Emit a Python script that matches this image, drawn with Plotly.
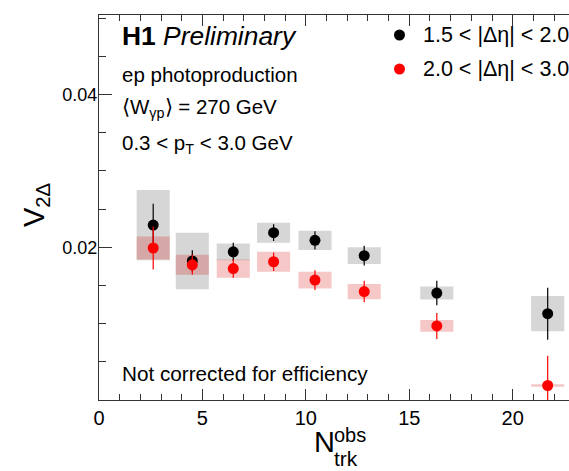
import plotly.graph_objects as go

# Multiplicity bin centres (observed track multiplicity)
n_trk = [2.62, 4.51, 6.49, 8.44, 10.44, 12.82, 16.33, 21.69]

# V2Delta for 1.5 < |d eta| < 2.0
v2_a = [0.0229, 0.0182, 0.0194, 0.0219, 0.0209, 0.0189, 0.0140, 0.0113]
stat_a = [0.0028, 0.0014, 0.0012, 0.0011, 0.0012, 0.0013, 0.0016, 0.0034]
sys_a = [0.0046, 0.0037, 0.0011, 0.0013, 0.00125, 0.0011, 0.00085, 0.0023]

# V2Delta for 2.0 < |d eta| < 3.0
v2_b = [0.0199, 0.0177, 0.0172, 0.0181, 0.0157, 0.0142, 0.0097, 0.0019]
stat_b = [0.0028, 0.0013, 0.0012, 0.0012, 0.0013, 0.0014, 0.0017, 0.0039]
sys_b = [0.0015, 0.0013, 0.0012, 0.0013, 0.0011, 0.0010, 0.00076, 0.00015]

series_labels = ["1.5 < |Δη| < 2.0", "2.0 < |Δη| < 3.0"]
x_ticks = [0, 5, 10, 15, 20]
y_ticks = [0.02, 0.04]

SYS_HALF_WIDTH = 0.8
FONT = "Liberation Sans, Arial, sans-serif"

W, H = 569, 471
ML, MR, MT, MB = 99, 0, 15, 71
X_RANGE = [0, 22.72]
Y_RANGE = [0, 0.0504]


def px(x):
    return (x - ML) / (W - ML - MR)


def py(y):
    return (H - MB - y) / (H - MT - MB)


fig = go.Figure()

# systematic uncertainty boxes
shapes = []
for xs, ys, ss, col in [
    (n_trk, v2_a, sys_a, "rgba(0,0,0,0.16)"),
    (n_trk, v2_b, sys_b, "rgba(210,0,0,0.22)"),
]:
    for x, y, s in zip(xs, ys, ss):
        shapes.append(dict(type="rect", xref="x", yref="y",
                           x0=x - SYS_HALF_WIDTH, x1=x + SYS_HALF_WIDTH,
                           y0=y - s, y1=y + s, fillcolor=col,
                           line=dict(width=0), layer="below"))

for ys, es, col, name in [
    (v2_a, stat_a, "black", series_labels[0]),
    (v2_b, stat_b, "#ff0000", series_labels[1]),
]:
    fig.add_trace(go.Scatter(
        x=n_trk, y=ys, mode="markers", name=name,
        marker=dict(color=col, size=11, line=dict(width=0)),
        error_y=dict(type="data", array=es, visible=True,
                     color=col, thickness=1.2, width=0),
        cliponaxis=True,
    ))

# legend drawn by hand: marker circles + labels
legend_rows = [(35, "black"), (69, "#ff0000")]
for (yy, col), lab in zip(legend_rows, series_labels):
    shapes.append(dict(type="circle", xref="paper", yref="paper",
                       xsizemode="pixel", ysizemode="pixel",
                       xanchor=px(399.5), yanchor=py(yy),
                       x0=-5.5, x1=5.5, y0=-5.5, y1=5.5,
                       fillcolor=col, line=dict(width=0)))

annotations = []


def text(x, y, s, size, **kw):
    d = dict(xref="paper", yref="paper", x=px(x), y=py(y), text=s,
             showarrow=False, xanchor="left", yanchor="middle",
             font=dict(family=FONT, size=size, color="black"))
    d.update(kw)
    annotations.append(d)


for (yy, col), lab in zip(legend_rows, series_labels):
    text(421, yy, lab, 21.5)

text(120, 36, "<b>H1</b> <i>Preliminary</i>", 26.4)
text(120, 74, "ep photoproduction", 20.5)
text(120, 108, "⟨W<sub>γp</sub>⟩ = 270 GeV", 20.5)
text(120, 144, "0.3 < p<sub>T</sub> < 3.0 GeV", 20.5)
text(120, 373, "Not corrected for efficiency", 20.7)

# axis titles
text(36, 205, "V<sub>2Δ</sub>", 29, textangle=-90, xanchor="center")
text(312, 442, "N", 29)
text(332, 435, "obs", 20)
text(332, 458, "trk", 21)

axis_col = "#333333"
fig.update_layout(
    width=W, height=H,
    margin=dict(l=ML, r=MR, t=MT, b=MB, pad=0),
    paper_bgcolor="white", plot_bgcolor="white",
    showlegend=False,
    shapes=shapes, annotations=annotations,
    font=dict(family=FONT, color="black"),
    xaxis=dict(range=X_RANGE, tickvals=x_ticks,
               ticktext=[str(v) for v in x_ticks],
               ticks="inside", ticklen=11, tickwidth=1.2, tickcolor=axis_col,
               showline=True, linecolor=axis_col, linewidth=1.3,
               mirror="ticks", showgrid=False, zeroline=False,
               tickfont=dict(size=20, family=FONT),
               minor=dict(dtick=1, tick0=0, ticks="inside", ticklen=6,
                          tickwidth=1.1, tickcolor=axis_col, showgrid=False)),
    yaxis=dict(range=Y_RANGE, tickvals=y_ticks,
               ticktext=["0.02", "0.04"],
               ticks="inside", ticklen=13, tickwidth=1.2, tickcolor=axis_col,
               showline=True, linecolor=axis_col, linewidth=1.3,
               showgrid=False, zeroline=False,
               ticklabelstandoff=-3,
               tickfont=dict(size=18, family=FONT),
               minor=dict(dtick=0.005, tick0=0, ticks="inside", ticklen=7,
                          tickwidth=1.1, tickcolor=axis_col, showgrid=False)),
)

fig.write_html("out.html")
